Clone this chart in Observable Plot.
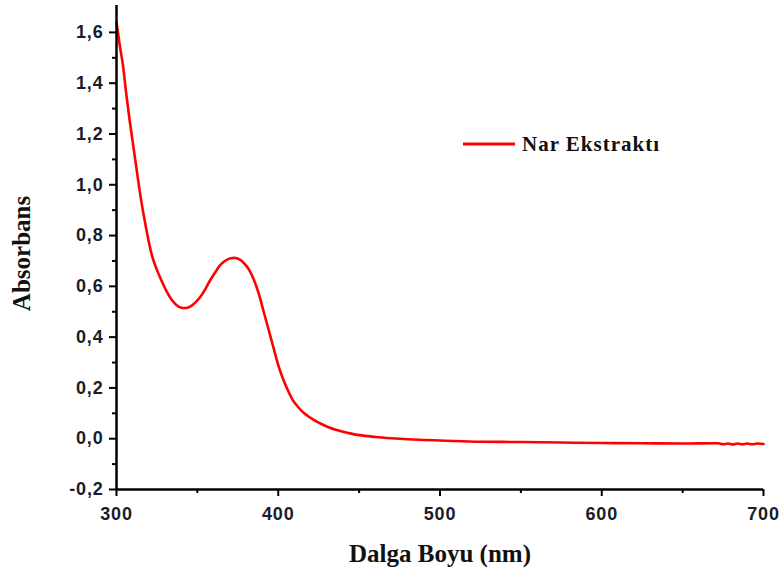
<!DOCTYPE html>
<html>
<head>
<meta charset="utf-8">
<script src="https://cdn.jsdelivr.net/npm/d3@7"></script>
<script src="https://cdn.jsdelivr.net/npm/@observablehq/plot@0.6"></script>
<style>
  html, body { margin: 0; padding: 0; background: #fff; }
  #wrap { position: relative; width: 783px; height: 581px; }
  #legend { position: absolute; left: 463px; top: 131px; height: 26px; display: flex; align-items: center;
    font-family: "Liberation Serif", "Times New Roman", serif; font-weight: bold; font-size: 21px; letter-spacing: 1px; color: #111; }
  #legend svg { margin-right: 7px; }
  g[aria-label="x-axis tick label"] text, g[aria-label="y-axis tick label"] text { letter-spacing: 0.8px; }
</style>
</head>
<body>
<div id="wrap"><div id="chart"></div>
<div id="legend"><svg width="52" height="6"><line x1="0" y1="3" x2="52" y2="3" stroke="#ff0000" stroke-width="3"/></svg><span id="legend-text"></span></div>
</div>
<script>
const wavelength = [300,302,304,306,308,310,312,314,316,318,320,322,325,328,331,334,337,340,343,346,349,352,355,358,361,364,367,370,373,376,379,382,385,388,391,394,397,400,403,406,409,412,416,420,425,430,435,440,445,450,460,470,480,490,500,525,550,575,600,625,650,672,675,678,681,684,687,690,693,696,700];
const absorbance = [1.64,1.55,1.47,1.36,1.26,1.17,1.08,0.99,0.91,0.84,0.775,0.72,0.665,0.62,0.58,0.548,0.527,0.516,0.515,0.522,0.538,0.56,0.59,0.625,0.655,0.683,0.70,0.71,0.712,0.706,0.69,0.665,0.625,0.57,0.50,0.43,0.36,0.29,0.235,0.19,0.152,0.127,0.10,0.082,0.063,0.048,0.036,0.027,0.02,0.014,0.007,0.002,-0.002,-0.005,-0.007,-0.012,-0.013,-0.015,-0.017,-0.018,-0.019,-0.018,-0.022,-0.019,-0.023,-0.019,-0.022,-0.019,-0.022,-0.019,-0.021];
const xMajor = [300,400,500,600,700];
const xMinor = [350,450,550,650];
const yMajor = [-0.2,0,0.2,0.4,0.6,0.8,1.0,1.2,1.4,1.6];
const yMinor = [-0.1,0.1,0.3,0.5,0.7,0.9,1.1,1.3,1.5];
const xTitle = "Dalga Boyu (nm)";
const yTitle = "Absorbans";
const seriesName = "Nar Ekstraktı";

document.getElementById("legend-text").textContent = seriesName;
const data = wavelength.map((w, i) => ({w, a: absorbance[i]}));
const fmt = d => d.toFixed(1).replace(".", ",");
const tickFont = {fontFamily: "Liberation Sans, Arial, sans-serif", fontWeight: "bold", fontSize: 18, fill: "#1b1b2b"};

const chart = Plot.plot({
  width: 783,
  height: 581,
  marginLeft: 116,
  marginRight: 20,
  marginTop: 5,
  marginBottom: 92,
  x: {domain: [300, 700]},
  y: {domain: [-0.2, 1.706]},
  style: {background: "#fff", overflow: "visible"},
  marks: [
    Plot.axisX(xMajor, {tickSize: 7, strokeWidth: 2, tickPadding: 11, tickFormat: d => String(d), ...tickFont, label: null}),
    Plot.axisX(xMinor, {tickSize: 4, strokeWidth: 2, tickFormat: () => "", label: null}),
    Plot.axisY(yMajor, {tickSize: 7, strokeWidth: 2, tickPadding: 6, tickFormat: fmt, ...tickFont, label: null}),
    Plot.axisY(yMinor, {tickSize: 4, strokeWidth: 2, tickFormat: () => "", label: null}),
    Plot.line(data, {x: "w", y: "a", stroke: "#ff0000", strokeWidth: 2.6, curve: "monotone-x"}),
    Plot.ruleX([300], {stroke: "#000", strokeWidth: 2.5}),
    Plot.ruleY([-0.2], {stroke: "#000", strokeWidth: 2.5}),
    Plot.text([xTitle], {frameAnchor: "bottom", dy: 64, text: d => d, fontFamily: "Liberation Serif, Times New Roman, serif", fontWeight: "bold", fontSize: 25, fill: "#111", lineAnchor: "middle"}),
    Plot.text([yTitle], {frameAnchor: "left", dx: -95, dy: 6, rotate: -90, textAnchor: "middle", text: d => d, fontFamily: "Liberation Serif, Times New Roman, serif", fontWeight: "bold", fontSize: 25, fill: "#111", lineAnchor: "middle"})
  ]
});
document.getElementById("chart").appendChild(chart);
</script>
</body>
</html>
